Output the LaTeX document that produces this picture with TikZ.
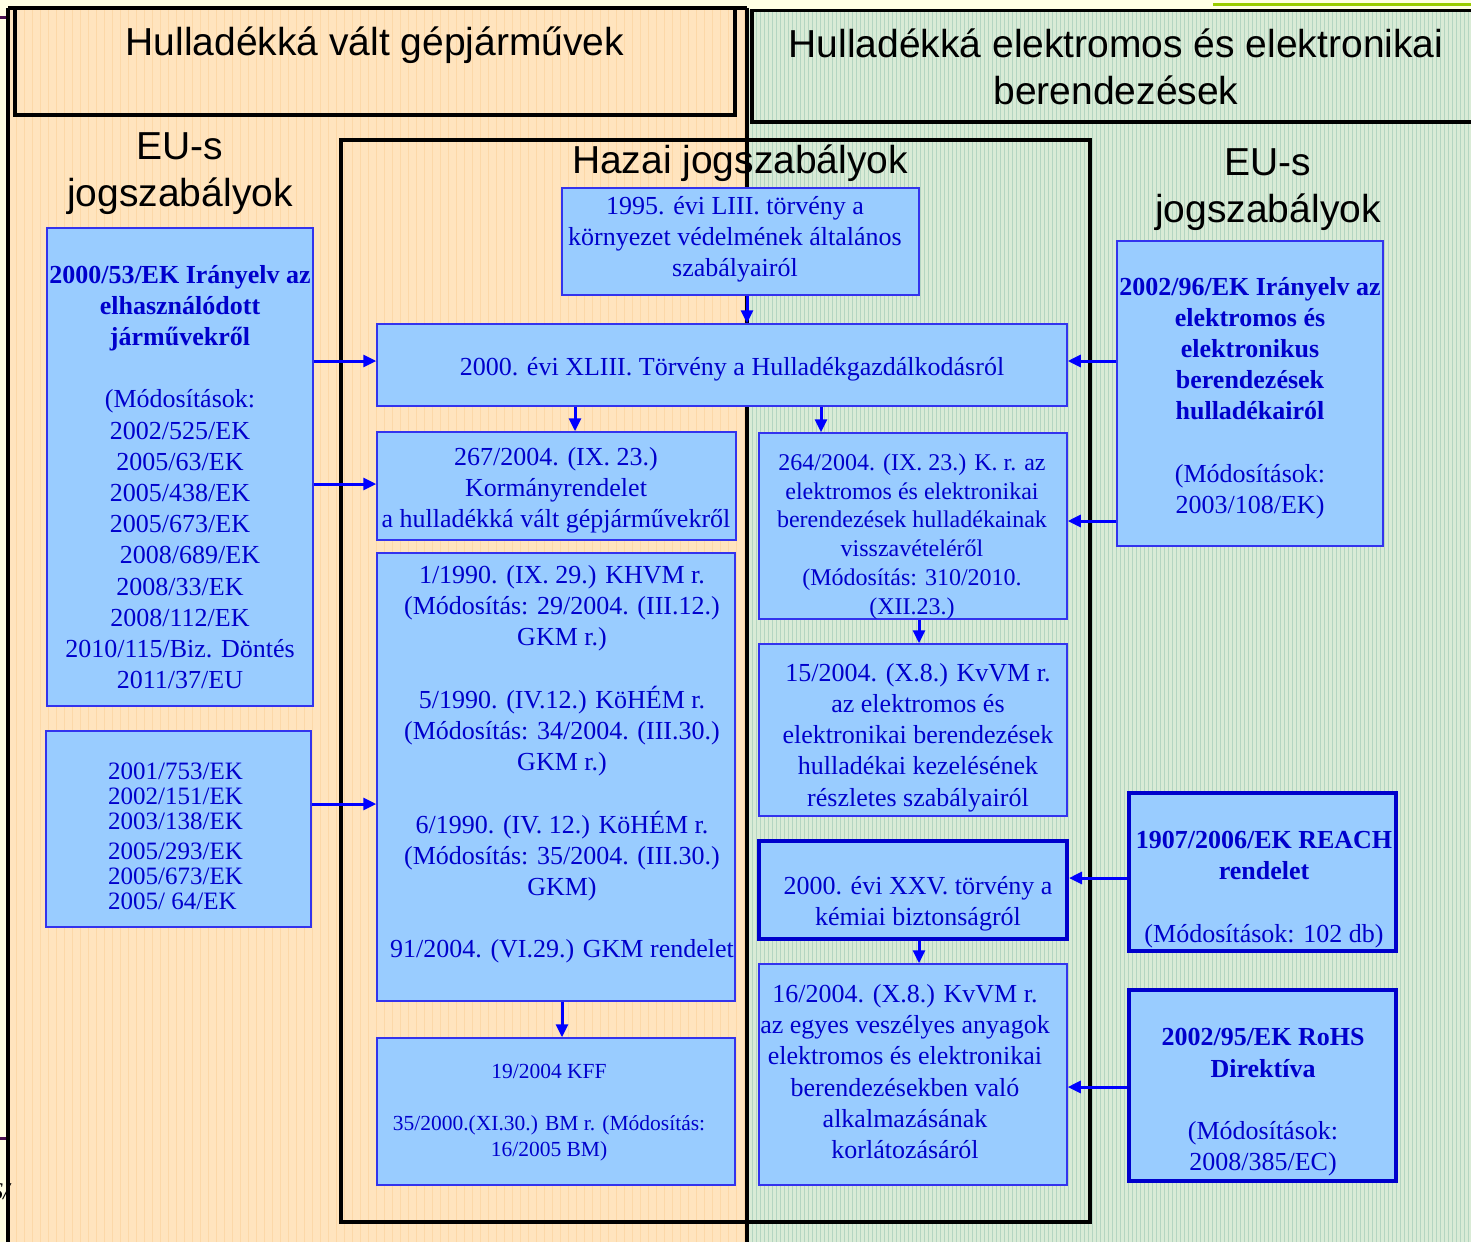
\documentclass[tikz,border=0pt]{standalone}
\usepackage{fontspec}
\setmainfont{Liberation Serif}
\newfontfamily\headfont{Liberation Sans}
\usetikzlibrary{arrows.meta}

\definecolor{pagebg}{HTML}{FFFFE4}
\definecolor{peach}{HTML}{FFE4BE}
\definecolor{peachgrid}{HTML}{FCD8A8}
\definecolor{mint}{HTML}{D9EBD6}
\definecolor{mintgrid}{HTML}{B4D5C1}
\definecolor{boxfill}{HTML}{99CCFF}
\definecolor{boxline}{HTML}{3333EE}
\definecolor{boxtext}{HTML}{0000CC}
\definecolor{linkblue}{HTML}{0000FF}
\definecolor{stubpurple}{HTML}{4A1050}
\definecolor{olive}{HTML}{99CC00}

\begin{document}
\begin{tikzpicture}[x=1pt,y=-1pt,
  lawbox/.style={draw=boxline, line width=1.5pt, fill=boxfill, inner sep=0pt},
  heavybox/.style={lawbox, draw=boxtext, line width=4pt},
  lawtext/.style={text=boxtext, align=center, inner sep=0pt, font=\fontsize{26}{31.2}\selectfont},
  heading/.style={text=black, align=center, inner sep=0pt, font=\headfont\fontsize{39}{47}\selectfont},
  frame/.style={draw=black, line width=3.2pt},
  link/.style={draw=linkblue, line width=3pt, -{Triangle[length=13pt,width=12pt]}}]

\useasboundingbox (0,0) rectangle (1471,1242);

% page background and the two shaded halves
\fill[pagebg] (0,0) rectangle (1471,1242);
\fill[peach] (8,8) rectangle (747,1242);
\draw[peachgrid, line width=0.8pt] (8,8) grid[step=8] (747,1242);
\fill[mint] (747,10) rectangle (1471,1242);
\draw[mintgrid, line width=0.8pt] (747,10) grid[step=4] (1471,1242);

% slide decorations at the edges
\draw[olive, line width=3pt] (1213,4) -- (1471,4);
\draw[stubpurple, line width=3pt] (0,17) -- (8,17);
\draw[stubpurple, line width=3pt] (0,1138) -- (8,1138);
\node[anchor=east, inner sep=0pt, font=\fontsize{24}{24}\selectfont\itshape] (edgetext) at (10,1192) {S/};

% frames
\draw[frame] (8,8) -- (747,8);
\draw[frame] (8,8) -- (8,1242);
\draw[frame] (747,8) -- (747,1242);
\draw[frame] (15,8) rectangle (735,115);
\draw[frame] (752,10.5) rectangle (1480,122);
\draw[frame, line width=4pt] (341,140) rectangle (1090,1222);

% headings
\node[heading, anchor=base] (lefttitle) at (375,55) {Hulladékká vált gépjárművek};
\node[heading] (righttitle) at (1116,67) {Hulladékká elektromos és elektronikai\\berendezések};
\node[heading] (lefteu) at (180,173.5) {EU-s\\jogszabályok};
\node[heading] (righteu) at (1268,189.5) {EU-s\\jogszabályok};
\node[heading, anchor=base] (hazai) at (740,173) {Hazai jogszabályok};

% boxes
\node[lawbox, minimum width=357pt, minimum height=107pt] (b1) at (740.5,241.5) {};
\node[lawbox, minimum width=690pt, minimum height=82pt] (b2) at (722,365) {};
\node[lawbox, minimum width=359pt, minimum height=108pt] (b3) at (556.5,486) {};
\node[lawbox, minimum width=358pt, minimum height=448pt] (b4) at (556,777) {};
\node[lawbox, minimum width=358pt, minimum height=147pt] (b5) at (556,1111.5) {};
\node[lawbox, minimum width=266pt, minimum height=478pt] (b6) at (180,467) {};
\node[lawbox, minimum width=265pt, minimum height=196pt] (b7) at (178.5,829) {};
\node[lawbox, minimum width=266pt, minimum height=305pt] (b8) at (1250,393.5) {};
\node[lawbox, minimum width=308pt, minimum height=186pt] (b9) at (913,526) {};
\node[lawbox, minimum width=308pt, minimum height=172pt] (b10) at (913,730) {};
\node[heavybox, minimum width=308pt, minimum height=98pt] (b11) at (913,890) {};
\node[lawbox, minimum width=308pt, minimum height=221pt] (b12) at (913,1074.5) {};
\node[heavybox, minimum width=267pt, minimum height=158pt] (b13) at (1262.5,872) {};
\node[heavybox, minimum width=267pt, minimum height=191pt] (b14) at (1262.5,1085.5) {};

% box texts
\node[lawtext] (b1t) at (735,239.5) {1995. évi LIII. törvény a\\környezet védelmének általános\\szabályairól};
\node[lawtext] (b2t) at (732,369) {2000. évi XLIII. Törvény a Hulladékgazdálkodásról};
\node[lawtext] (b3t) at (556,490) {267/2004. (IX. 23.)\\Kormányrendelet\\a hulladékká vált gépjárművekről};
\node[lawtext] (b4t) at (562,764.5) {1/1990. (IX. 29.) KHVM r.\\(Módosítás: 29/2004. (III.12.)\\GKM r.)\\[31.2pt]5/1990. (IV.12.) KöHÉM r.\\(Módosítás: 34/2004. (III.30.)\\GKM r.)\\[31.2pt]6/1990. (IV. 12.) KöHÉM r.\\(Módosítás: 35/2004. (III.30.)\\GKM)\\[31.2pt]91/2004. (VI.29.) GKM rendelet};
\node[lawtext, font=\fontsize{21.5}{26}\selectfont] (b5t) at (549,1113) {19/2004 KFF\\[26pt]35/2000.(XI.30.) BM r. (Módosítás:\\16/2005 BM)};
\node[lawtext] (b6t) at (180,477) {\textbf{2000/53/EK Irányelv az}\\\textbf{elhasználódott}\\\textbf{járművekről}\\[31.2pt](Módosítások:\\2002/525/EK\\2005/63/EK\\2005/438/EK\\2005/673/EK\\\hspace*{20pt}2008/689/EK\\2008/33/EK\\2008/112/EK\\2010/115/Biz. Döntés\\2011/37/EU};
\node[lawtext, align=left, anchor=west, font=\fontsize{25}{25}\selectfont] (b7t) at (108,836.5) {2001/753/EK\\2002/151/EK\\2003/138/EK\\[5pt]2005/293/EK\\2005/673/EK\\2005/ 64/EK};
\node[lawtext] (b8t) at (1250,398) {\textbf{2002/96/EK Irányelv az}\\\textbf{elektromos és}\\\textbf{elektronikus}\\\textbf{berendezések}\\\textbf{hulladékairól}\\[31.2pt](Módosítások:\\2003/108/EK)};
\node[lawtext, font=\fontsize{24}{28.8}\selectfont] (b9t) at (912,536.5) {264/2004. (IX. 23.) K. r. az\\elektromos és elektronikai\\berendezések hulladékainak\\visszavételéről\\(Módosítás: 310/2010.\\(XII.23.)};
\node[lawtext] (b10t) at (918,737.5) {15/2004. (X.8.) KvVM r.\\az elektromos és\\elektronikai berendezések\\hulladékai kezelésének\\részletes szabályairól};
\node[lawtext] (b11t) at (918,903.5) {2000. évi XXV. törvény a\\kémiai biztonságról};
\node[lawtext] (b12t) at (905,1071.5) {16/2004. (X.8.) KvVM r.\\az egyes veszélyes anyagok\\elektromos és elektronikai\\berendezésekben való\\alkalmazásának\\korlátozásáról};
\node[lawtext] (b13t) at (1264,889.5) {\textbf{1907/2006/EK REACH}\\\textbf{rendelet}\\[31.2pt](Módosítások: 102 db)};
\node[lawtext] (b14t) at (1263,1102.5) {\textbf{2002/95/EK RoHS}\\\textbf{Direktíva}\\[31.2pt](Módosítások:\\2008/385/EC)};

% connectors
\draw[link] (b6.east |- 0,361) -- (b2.west |- 0,361);
\draw[link] (b6.east |- 0,484) -- (b3.west |- 0,484);
\draw[link] (b7.east |- 0,804) -- (b4.west |- 0,804);
\draw[link] (b1.south -| 747,0) -- (b2.north -| 747,0);
\draw[link] (b2.south -| 575,0) -- (b3.north -| 575,0);
\draw[link] (b2.south -| 821,0) -- (b9.north -| 821,0);
\draw[link] (b8.west |- 0,361) -- (b2.east |- 0,361);
\draw[link] (b8.west |- 0,521) -- (b9.east |- 0,521);
\draw[link] (b9.south -| 919,0) -- (b10.north -| 919,0);
\draw[link] (b11.south -| 919,0) -- (b12.north -| 919,0);
\draw[link] (b13.west |- 0,878) -- (b11.east |- 0,878);
\draw[link] (b14.west |- 0,1087) -- (b12.east |- 0,1087);
\draw[link] (b4.south -| 562,0) -- (b5.north -| 562,0);
\end{tikzpicture}
\end{document}
